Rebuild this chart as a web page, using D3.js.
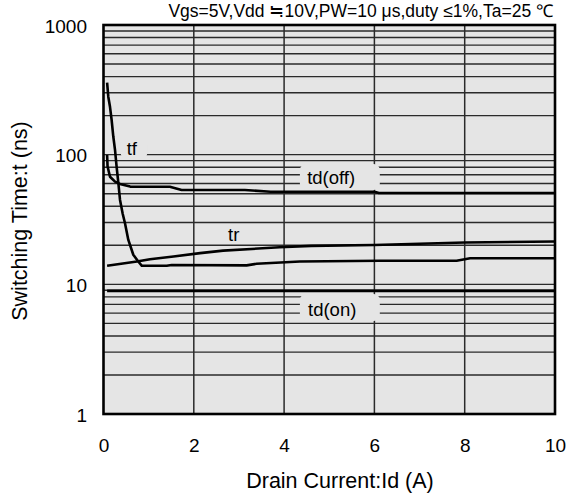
<!DOCTYPE html>
<html>
<head>
<meta charset="utf-8">
<script src="https://cdn.jsdelivr.net/npm/d3@7"></script>
<style>
    body { margin: 0; background: #fff; }
    text { font-family: "Liberation Sans", Arial, sans-serif; fill: #000; }
</style>
</head>
<body>
<div id="chart"></div>
<script>
// Valeurs (courant en A, temps en ns)
const xTicks = [0, 2, 4, 6, 8, 10];
const yTicks = [1, 10, 100, 1000];
const conditions = "Vgs=5V,Vdd ≒10V,PW=10  μs,duty ≤1%,Ta=25 ℃";

const tf = [[0.08, 359], [0.106, 280], [0.144, 234], [0.18, 185], [0.217, 138], [0.255, 109],
    [0.29, 81], [0.33, 60], [0.365, 45], [0.425, 35], [0.476, 29.6], [0.55, 22], [0.66, 16.9],
    [0.77, 15.0], [0.85, 13.9], [1.4, 13.9], [1.51, 14.1], [3.17, 14.0], [3.39, 14.4],
    [4.35, 15.0], [6.12, 15.2], [7.82, 15.2], [8.12, 15.9], [10, 15.9]];

const tdOff = [[0.08, 99.5], [0.09, 81], [0.144, 67.6], [0.255, 61.9], [0.365, 59.5], [0.59, 56.7],
    [1.47, 56.5], [1.73, 53.4], [3.13, 53.4], [3.7, 51.8], [6.0, 51.8], [6.1, 50.6], [10, 50.6]];

const tr = [[0.08, 13.9], [0.74, 15.0], [1.03, 15.6], [1.55, 16.4], [2.14, 17.4], [2.65, 18.2],
    [3.9, 19.3], [4.6, 19.8], [6.0, 20.1], [8.0, 21.0], [10, 21.4]];

const tdOn = [[0.08, 8.9], [10, 8.9]];

const width = 575, height = 501;
const plotLeft = 103.5, plotRight = 555, plotTop = 25, plotBottom = 414;

const svg = d3.select("#chart").append("svg")
    .attr("width", width)
    .attr("height", height);

const x = d3.scaleLinear().domain([0, 10]).range([plotLeft, plotRight]);
const y = d3.scaleLog().domain([1, 1000]).range([plotBottom, plotTop]);

// fond gris
svg.append("rect")
    .attr("x", plotLeft).attr("y", plotTop)
    .attr("width", plotRight - plotLeft).attr("height", plotBottom - plotTop)
    .attr("fill", "#e5e5e5");

// grille log : 2..9 dans chaque décade + 10 et 100
const yGrid = [];
[1, 10, 100].forEach(d => {
    for (let k = 2; k <= 9; k++) yGrid.push(d * k);
    if (d > 1) yGrid.push(d);
});

svg.append("g")
    .selectAll("line")
    .data(yGrid)
    .enter().append("line")
    .attr("x1", plotLeft).attr("x2", plotRight)
    .attr("y1", d => y(d)).attr("y2", d => y(d))
    .attr("stroke", "#2a2a2a")
    .attr("stroke-width", 1.4);

svg.append("g")
    .selectAll("line")
    .data(xTicks.slice(1, -1))
    .enter().append("line")
    .attr("x1", d => x(d)).attr("x2", d => x(d))
    .attr("y1", plotTop).attr("y2", plotBottom)
    .attr("stroke", "#2a2a2a")
    .attr("stroke-width", 1.5);

// boites des étiquettes qui cachent la grille (coordonnées en A / ns)
const boxes = [
    {x0: 0.38, x1: 0.97, y0: 134, y1: 92.6},
    {x0: 4.35, x1: 6.12, y0: 84.7, y1: 53.4},
    {x0: 4.35, x1: 6.12, y0: 8.42, y1: 5.21}
];
svg.append("g")
    .selectAll("rect")
    .data(boxes)
    .enter().append("rect")
    .attr("x", d => x(d.x0))
    .attr("y", d => y(d.y0))
    .attr("width", d => x(d.x1) - x(d.x0))
    .attr("height", d => y(d.y1) - y(d.y0))
    .attr("rx", 6)
    .attr("fill", "#e5e5e5");

// courbes
const line = d3.line()
    .x(d => x(d[0]))
    .y(d => y(d[1]));

svg.append("g")
    .selectAll("path")
    .data([tf, tdOff, tr, tdOn])
    .enter().append("path")
    .attr("d", line)
    .attr("fill", "none")
    .attr("stroke", "#000")
    .attr("stroke-width", 2.6)
    .attr("stroke-linejoin", "round");

// étiquettes des courbes
const labels = [
    {text: "tf", x: 0.514, y: 99.4},
    {text: "td(off)", x: 4.51, y: 58.9},
    {text: "tr", x: 2.76, y: 21.4},
    {text: "td(on)", x: 4.53, y: 5.7}
];
svg.append("g")
    .selectAll("text")
    .data(labels)
    .enter().append("text")
    .attr("x", d => x(d.x))
    .attr("y", d => y(d.y))
    .attr("font-size", 18.5)
    .text(d => d.text);

// cadre
svg.append("rect")
    .attr("x", plotLeft).attr("y", plotTop)
    .attr("width", plotRight - plotLeft).attr("height", plotBottom - plotTop)
    .attr("fill", "none")
    .attr("stroke", "#000")
    .attr("stroke-width", 2.6);

// axes (sans traits, juste les libellés)
const xAxis = svg.append("g")
    .attr("transform", "translate(0," + (plotBottom + 21) + ")")
    .call(d3.axisBottom(x).tickValues(xTicks).tickSize(0).tickFormat(d3.format("d")));
xAxis.select(".domain").remove();
xAxis.selectAll("text").attr("font-size", 19).attr("font-family", "Liberation Sans, Arial, sans-serif");

const yAxis = svg.append("g")
    .attr("transform", "translate(" + (plotLeft - 13.5) + ",1)")
    .call(d3.axisLeft(y).tickValues(yTicks).tickSize(0).tickFormat(d3.format("d")));
yAxis.select(".domain").remove();
yAxis.selectAll("text").attr("font-size", 19).attr("font-family", "Liberation Sans, Arial, sans-serif");

svg.append("text")
    .attr("x", 340)
    .attr("y", 488)
    .attr("text-anchor", "middle")
    .attr("font-size", 21.5)
    .text("Drain Current:Id (A)");

svg.append("text")
    .attr("transform", "translate(27,221)rotate(-90)")
    .attr("text-anchor", "middle")
    .attr("font-size", 21.5)
    .text("Switching Time:t (ns)");

svg.append("text")
    .attr("x", 553)
    .attr("y", 17)
    .attr("text-anchor", "end")
    .attr("font-size", 17.5)
    .text(conditions);
</script>
</body>
</html>
